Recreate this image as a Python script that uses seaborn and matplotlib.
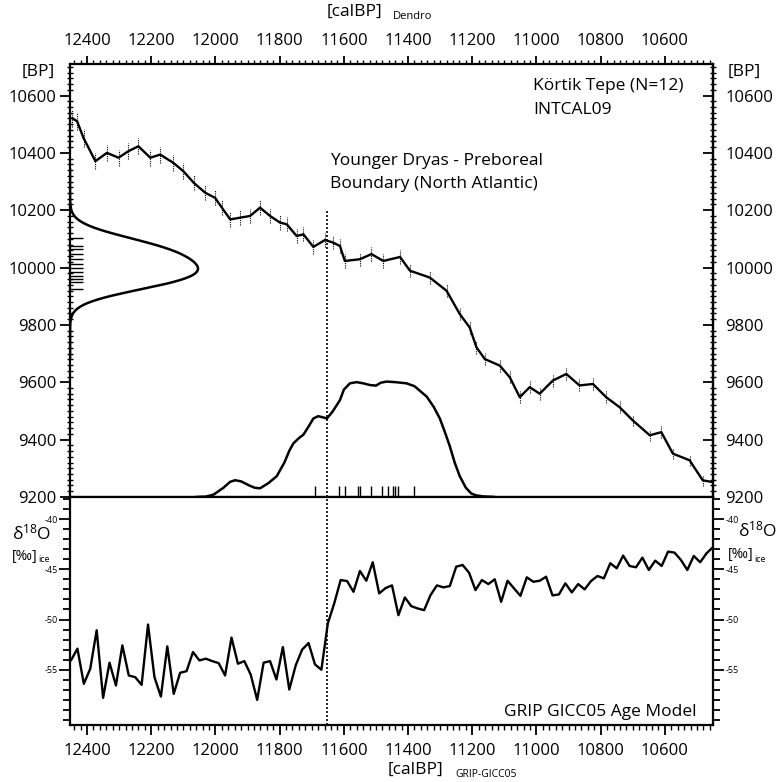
import numpy as np
import pandas as pd
import matplotlib
matplotlib.use("Agg")
import matplotlib.pyplot as plt
import seaborn as sns
from matplotlib.ticker import MultipleLocator

# ---------------- data ----------------
# INTCAL09 calibration curve (cal BP vs 14C BP)
cal_age = [12446, 12431, 12411, 12374, 12338, 12302, 12271, 12240, 12203, 12172,
           12131, 12100, 12068, 12032, 12001, 11980, 11954, 11923, 11892, 11861,
           11830, 11799, 11778, 11747, 11726, 11695, 11659, 11633, 11612, 11597,
           11550, 11514, 11477, 11425, 11394, 11332, 11280, 11239, 11208, 11187,
           11161, 11114, 11083, 11052, 11021, 10990, 10949, 10907, 10866, 10824,
           10783, 10741, 10700, 10647, 10611, 10575, 10523, 10482, 10451]
c14_age = [10521, 10510, 10452, 10371, 10400, 10383, 10406, 10423, 10383, 10394,
           10365, 10336, 10296, 10261, 10243, 10209, 10168, 10174, 10180, 10209,
           10180, 10157, 10151, 10110, 10116, 10072, 10096, 10087, 10075, 10023,
           10029, 10047, 10023, 10037, 9989, 9965, 9919, 9838, 9791, 9722,
           9681, 9658, 9617, 9548, 9583, 9560, 9606, 9629, 9589, 9594,
           9548, 9513, 9467, 9415, 9426, 9351, 9328, 9258, 9252]
c14_err = [30, 30, 30, 28, 28, 28, 28, 28, 28, 28,
           28, 28, 27, 27, 26, 26, 26, 26, 25, 25,
           25, 25, 25, 24, 24, 24, 24, 24, 24, 24,
           23, 23, 23, 23, 23, 22, 22, 22, 22, 22,
           22, 21, 21, 21, 21, 21, 21, 21, 21, 20,
           20, 20, 20, 20, 20, 20, 20, 20, 20]

# Körtik Tepe radiocarbon dates (N=12), 14C BP
sample_c14 = [10104, 10075, 10064, 10047, 10029, 10012, 10000, 9983, 9971, 9960, 9948, 9925]
# calibrated sample ages (cal BP)
sample_cal = [11690, 11615, 11597, 11555, 11550, 11514, 11482, 11462, 11448, 11441, 11431, 11381]

# summed calibrated probability (relative)
calib_age = [12060, 12030, 12006, 11975, 11955, 11939, 11920, 11895, 11878, 11861,
             11835, 11809, 11785, 11770, 11757, 11740, 11726, 11710, 11695, 11680,
             11665, 11653, 11635, 11612, 11600, 11581, 11560, 11540, 11519, 11500,
             11485, 11467, 11440, 11405, 11380, 11342, 11320, 11301, 11285, 11270,
             11255, 11239, 11220, 11203, 11190, 11167, 11130]
calib_prob = [0.0, 0.003, 0.02, 0.08, 0.13, 0.145, 0.135, 0.1, 0.08, 0.075,
              0.12, 0.18, 0.3, 0.4, 0.465, 0.51, 0.54, 0.61, 0.68, 0.7,
              0.69, 0.68, 0.74, 0.84, 0.93, 0.985, 0.995, 0.985, 0.97, 0.965,
              0.99, 1.0, 0.995, 0.985, 0.96, 0.87, 0.78, 0.68, 0.56, 0.44,
              0.3, 0.18, 0.08, 0.03, 0.015, 0.005, 0.0]

# GRIP d18O (GICC05 age model)
grip_age = [12450, 12430, 12410, 12390, 12370, 12350, 12330, 12310, 12290, 12270,
            12250, 12230, 12210, 12190, 12170, 12150, 12130, 12110, 12090, 12070,
            12050, 12030, 12010, 11990, 11970, 11950, 11930, 11910, 11890, 11870,
            11850, 11830, 11810, 11790, 11770, 11750, 11730, 11710, 11690, 11670,
            11650, 11630, 11610, 11590, 11570, 11550, 11530, 11510, 11490, 11470,
            11450, 11430, 11410, 11390, 11370, 11350, 11330, 11310, 11290, 11270,
            11250, 11230, 11210, 11190, 11170, 11150, 11130, 11110, 11090, 11070,
            11050, 11030, 11010, 10990, 10970, 10950, 10930, 10910, 10890, 10870,
            10850, 10830, 10810, 10790, 10770, 10750, 10730, 10710, 10690, 10670,
            10650, 10630, 10610, 10590, 10570, 10550, 10530, 10510, 10490, 10470,
            10450]
grip_d18o = [-54.07, -52.9, -56.4, -54.9, -51.07, -57.8, -54.3, -56.57, -52.57, -55.57,
             -55.74, -56.5, -50.5, -55.74, -57.67, -52.67, -57.4, -55.3, -55.14, -53.24,
             -54.07, -53.9, -54.14, -54.34, -55.57, -51.8, -54.4, -54.14, -55.5, -58.0,
             -54.3, -54.14, -55.97, -52.74, -56.97, -54.57, -53.0, -52.34, -54.47, -55.0,
             -50.4, -48.4, -46.07, -46.17, -47.24, -45.17, -46.14, -44.3, -47.4, -46.87,
             -46.6, -49.57, -47.8, -48.67, -48.9, -49.07, -47.57, -46.6, -46.8, -46.67,
             -44.74, -44.57, -45.34, -47.07, -46.07, -46.47, -46.0, -48.24, -46.14, -46.9,
             -47.64, -45.8, -46.24, -46.14, -45.74, -47.6, -47.5, -46.4, -47.3, -46.47,
             -47.0, -46.17, -45.67, -45.9, -44.4, -44.9, -43.64, -44.67, -44.8, -43.84,
             -45.07, -44.14, -44.67, -43.24, -43.34, -44.07, -45.07, -43.67, -44.3, -43.4,
             -42.8]

boundary_age = 11653
x_ticks = [12400, 12200, 12000, 11800, 11600, 11400, 11200, 11000, 10800, 10600]
bp_ticks = [9200, 9400, 9600, 9800, 10000, 10200, 10400, 10600]
d18o_ticks = [-55, -50, -45, -40]

# ---------------- style ----------------
sns.set_theme(style="white")
plt.rcParams["font.family"] = ["Open Sans", "DejaVu Sans"]
plt.rcParams["mathtext.fontset"] = "custom"
plt.rcParams["mathtext.rm"] = "Open Sans"
plt.rcParams["mathtext.it"] = "Open Sans:italic"
plt.rcParams["axes.unicode_minus"] = False

K = "black"
fig = plt.figure(figsize=(7.79, 7.82), dpi=100)
ax1 = fig.add_axes([0.0899, 0.3645, 0.8254, 0.5537])
ax2 = fig.add_axes([0.0899, 0.0729, 0.8254, 0.2916])
for ax in (ax1, ax2):
    ax.set_facecolor("white")
    for s in ax.spines.values():
        s.set_color(K)
        s.set_linewidth(1.6)

XLIM = (12453, 10450)

# ---- top panel ----
ax1.set_xlim(*XLIM)
ax1.set_ylim(9200, 10710)
eb = ax1.errorbar(cal_age, c14_age, yerr=c14_err, fmt="none", ecolor=K, elinewidth=0.8)
eb[2][0].set_linestyle((0, (1, 1)))
sns.lineplot(x=cal_age, y=c14_age, ax=ax1, color=K, lw=1.7, sort=False)
ax1.vlines(boundary_age, 9200, 10205, colors=K, linestyles=(0, (1.2, 1.2)), lw=1.2)
sns.rugplot(y=sample_c14, ax=ax1, height=0.02, color=K, lw=1.5)
sns.rugplot(x=sample_cal, ax=ax1, height=0.025, color=K, lw=1.0)

# density of the 14C dates
axg = ax1.twiny()
sns.kdeplot(y=sample_c14, ax=axg, bw_adjust=1.2, color=K, lw=1.8, cut=6)
dmax = max(axg.lines[0].get_xdata())
axg.set_xlim(0, dmax / 0.199)
axg.axis("off")

# calibrated probability
axp = ax1.twinx()
sns.lineplot(x=calib_age, y=calib_prob, ax=axp, color=K, lw=1.8)
axp.set_ylim(0, 1 / 0.2665)
axp.axis("off")

ax1.set_xticks(x_ticks)
ax1.set_xticklabels([str(v) for v in x_ticks])
ax1.xaxis.set_minor_locator(MultipleLocator(20))
ax1.tick_params(axis="x", which="both", top=True, bottom=True, labeltop=True,
                labelbottom=False, direction="out", color=K, labelsize=12, labelcolor=K)
ax1.tick_params(axis="x", which="major", length=6, width=1.3, pad=5)
ax1.tick_params(axis="x", which="minor", length=3, width=1.0)

ax1.set_yticks(bp_ticks)
ax1.set_yticklabels([str(v) for v in bp_ticks])
ax1.yaxis.set_minor_locator(MultipleLocator(20))
ax1.tick_params(axis="y", which="both", left=True, right=False, labelleft=True,
                labelright=False, color=K, labelsize=12, labelcolor=K)
ax1.tick_params(axis="y", which="major", direction="out", length=7, width=1.3, pad=3)
ax1.tick_params(axis="y", which="minor", direction="inout", length=5, width=1.0)
sec = ax1.secondary_yaxis("right")
sec.set_yticks(bp_ticks)
sec.set_yticklabels([str(v) for v in bp_ticks])
sec.yaxis.set_minor_locator(MultipleLocator(20))
sec.tick_params(axis="y", which="major", direction="in", length=7, width=1.3, pad=9,
                labelsize=12, colors=K)
sec.tick_params(axis="y", which="minor", direction="inout", length=5, width=1.0, colors=K)
sec.spines["right"].set_linewidth(1.6)
ax1.set_xlabel("")
ax1.set_ylabel("")
axp.set_ylabel("")

ax1.text(0.72, 0.949, "Körtik Tepe (N=12)", transform=ax1.transAxes, fontsize=12.5,
         ha="left", va="center", color=K)
ax1.text(0.72, 0.894, "INTCAL09", transform=ax1.transAxes, fontsize=12.5,
         ha="left", va="center", color=K)
ax1.text(0.404, 0.776, "Younger Dryas - Preboreal", transform=ax1.transAxes,
         fontsize=12.5, ha="left", va="center", color=K)
ax1.text(0.404, 0.723, "Boundary (North Atlantic)", transform=ax1.transAxes,
         fontsize=12.5, ha="left", va="center", color=K)

# ---- bottom panel ----
ax2.set_xlim(*XLIM)
ax2.set_ylim(-60.5, -37.8)
sns.lineplot(x=grip_age, y=grip_d18o, ax=ax2, color=K, lw=1.7)
ax2.axvline(boundary_age, color=K, ls=(0, (1.2, 1.2)), lw=1.2)
ax2.set_xticks(x_ticks)
ax2.set_xticklabels([str(v) for v in x_ticks])
ax2.xaxis.set_minor_locator(MultipleLocator(20))
ax2.tick_params(axis="x", which="both", bottom=True, top=False, labelbottom=True,
                direction="out", color=K, labelsize=12, labelcolor=K)
ax2.tick_params(axis="x", which="major", length=7, width=1.3, pad=6)
ax2.tick_params(axis="x", which="minor", length=3.5, width=1.0)
ax2.set_yticks(d18o_ticks)
ax2.set_yticklabels([str(v) for v in d18o_ticks])
ax2.yaxis.set_minor_locator(MultipleLocator(1))
ax2.tick_params(axis="y", which="both", left=True, right=True, labelleft=True,
                labelright=True, direction="out", color=K, labelsize=6.5, labelcolor=K)
ax2.tick_params(axis="y", which="major", length=8, width=1.3, pad=1)
ax2.tick_params(axis="y", which="minor", length=5, width=1.3)
ax2.set_xlabel("")
ax2.set_ylabel("")
ax2.text(0.975, 0.057, "GRIP GICC05 Age Model", transform=ax2.transAxes,
         fontsize=12.5, ha="right", va="center", color=K)

# ---- outer labels ----
fig.text(0.455, 0.985, "[calBP]", fontsize=12.5, ha="center", va="center", color=K)
fig.text(0.5045, 0.979, "Dendro", fontsize=8, ha="left", va="center", color=K)
fig.text(0.534, 0.0153, "[calBP]", fontsize=12.5, ha="center", va="center", color=K)
fig.text(0.584, 0.0095, "GRIP-GICC05", fontsize=7.5, ha="left", va="center", color=K)
fig.text(0.0706, 0.908, "[BP]", fontsize=12.5, ha="right", va="center", color=K)
fig.text(0.9345, 0.908, "[BP]", fontsize=12.5, ha="left", va="center", color=K)

fig.text(0.0154, 0.318, r"δ$^{18}$O", fontsize=12.5, ha="left", va="center", color=K)
fig.text(0.0154, 0.289, "[‰]", fontsize=10, ha="left", va="center", color=K)
fig.text(0.0495, 0.2845, "ice", fontsize=6.5, ha="left", va="center", color=K)
fig.text(0.947, 0.322, r"δ$^{18}$O", fontsize=12.5, ha="left", va="center", color=K)
fig.text(0.934, 0.291, "[‰]", fontsize=10, ha="left", va="center", color=K)
fig.text(0.968, 0.285, "ice", fontsize=6.5, ha="left", va="center", color=K)

fig.savefig("out.png", dpi=100, facecolor="white")
